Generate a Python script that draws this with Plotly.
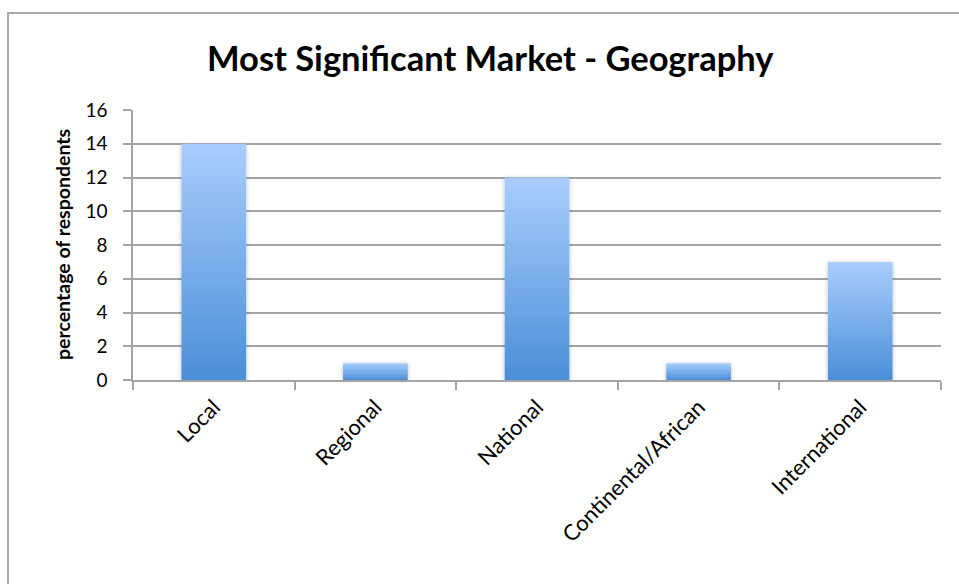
import plotly.graph_objects as go

# Survey data: most significant market by geography
categories = ["Local", "Regional", "National", "Continental/African", "International"]
respondents = [14, 1, 12, 1, 7]
y_ticks = [0, 2, 4, 6, 8, 10, 12, 14, 16]

W, H = 959, 584
L, R, T, B = 133, 18, 110, 204
PW, PH = W - L - R, H - T - B

GRID = "#a3a3a3"
FONT = "Lato, 'Open Sans', sans-serif"


def px_x(x):
    return (x - L) / PW


def px_y(y):
    return (H - B - y) / PH


fig = go.Figure(
    go.Bar(
        x=categories,
        y=respondents,
        width=0.4,
        marker=dict(color="#78ace9", line=dict(width=0)),
        hoverinfo="x+y",
    )
)

fig.update_layout(
    width=W,
    height=H,
    margin=dict(l=L, r=R, t=T, b=B),
    paper_bgcolor="white",
    plot_bgcolor="white",
    showlegend=False,
    font=dict(family=FONT, color="black"),
    bargap=0.6,
)

fig.update_xaxes(
    type="category",
    tickangle=-45,
    tickson="boundaries",
    ticks="outside",
    ticklen=8,
    tickcolor=GRID,
    tickwidth=1.5,
    showline=True,
    linecolor=GRID,
    linewidth=1.5,
    showgrid=False,
    ticklabelstandoff=4,
    tickfont=dict(size=22, family=FONT, color="black"),
)

fig.update_yaxes(
    range=[0, 16],
    tickvals=y_ticks,
    ticks="outside",
    ticklen=8,
    tickcolor=GRID,
    tickwidth=1.5,
    showline=True,
    linecolor=GRID,
    linewidth=1.5,
    showgrid=True,
    gridcolor=GRID,
    gridwidth=1.5,
    zeroline=False,
    ticklabelstandoff=12,
    tickfont=dict(size=19, family=FONT, color="black"),
)

# Chart title and axis title
fig.add_annotation(
    text="<b>Most Significant Market - Geography</b>",
    xref="paper", yref="paper",
    x=px_x(490), y=px_y(58),
    xanchor="center", yanchor="middle",
    showarrow=False,
    font=dict(size=34.5, family=FONT, color="black"),
)
fig.add_annotation(
    text="<b>percentage of respondents</b>",
    xref="paper", yref="paper",
    x=px_x(62), y=0.5,
    xanchor="center", yanchor="middle",
    textangle=-90,
    showarrow=False,
    font=dict(size=19.5, family=FONT, color="black"),
)

# Chart frame
fig.add_shape(
    type="rect",
    xref="paper", yref="paper",
    x0=px_x(8), x1=px_x(W + 20),
    y0=px_y(H + 20), y1=px_y(13),
    line=dict(color="#a8a8a8", width=2),
    fillcolor="rgba(0,0,0,0)",
    layer="below",
)

# Vertical gradient fill and soft shadow for the bars
post_js = """
(function(){
  var gd = document.getElementById('{plot_id}');
  var ns = 'http://www.w3.org/2000/svg';
  function apply(){
    var svg = gd.querySelector('svg.main-svg');
    if (!svg) return;
    var defs = svg.querySelector('defs');
    if (!defs) { defs = document.createElementNS(ns, 'defs'); svg.insertBefore(defs, svg.firstChild); }
    if (!document.getElementById('barGrad')) {
      var lg = document.createElementNS(ns, 'linearGradient');
      lg.setAttribute('id', 'barGrad');
      lg.setAttribute('x1', '0'); lg.setAttribute('y1', '0');
      lg.setAttribute('x2', '0'); lg.setAttribute('y2', '1');
      [['0', '#a9cdfd'], ['1', '#4a8fd8']].forEach(function(s){
        var st = document.createElementNS(ns, 'stop');
        st.setAttribute('offset', s[0]);
        st.setAttribute('stop-color', s[1]);
        lg.appendChild(st);
      });
      defs.appendChild(lg);
      var f = document.createElementNS(ns, 'filter');
      f.setAttribute('id', 'barShadow');
      f.setAttribute('x', '-30%'); f.setAttribute('y', '-30%');
      f.setAttribute('width', '160%'); f.setAttribute('height', '160%');
      var ds = document.createElementNS(ns, 'feDropShadow');
      ds.setAttribute('dx', '0'); ds.setAttribute('dy', '1');
      ds.setAttribute('stdDeviation', '2.2');
      ds.setAttribute('flood-color', '#000');
      ds.setAttribute('flood-opacity', '0.28');
      f.appendChild(ds);
      defs.appendChild(f);
    }
    gd.querySelectorAll('.barlayer .point path').forEach(function(p){
      p.style.fill = 'url(#barGrad)';
      p.setAttribute('filter', 'url(#barShadow)');
    });
  }
  apply();
  if (gd.on) gd.on('plotly_afterplot', apply);
})();
"""

fig.write_html("out.html", post_script=post_js, config={"displayModeBar": False})
